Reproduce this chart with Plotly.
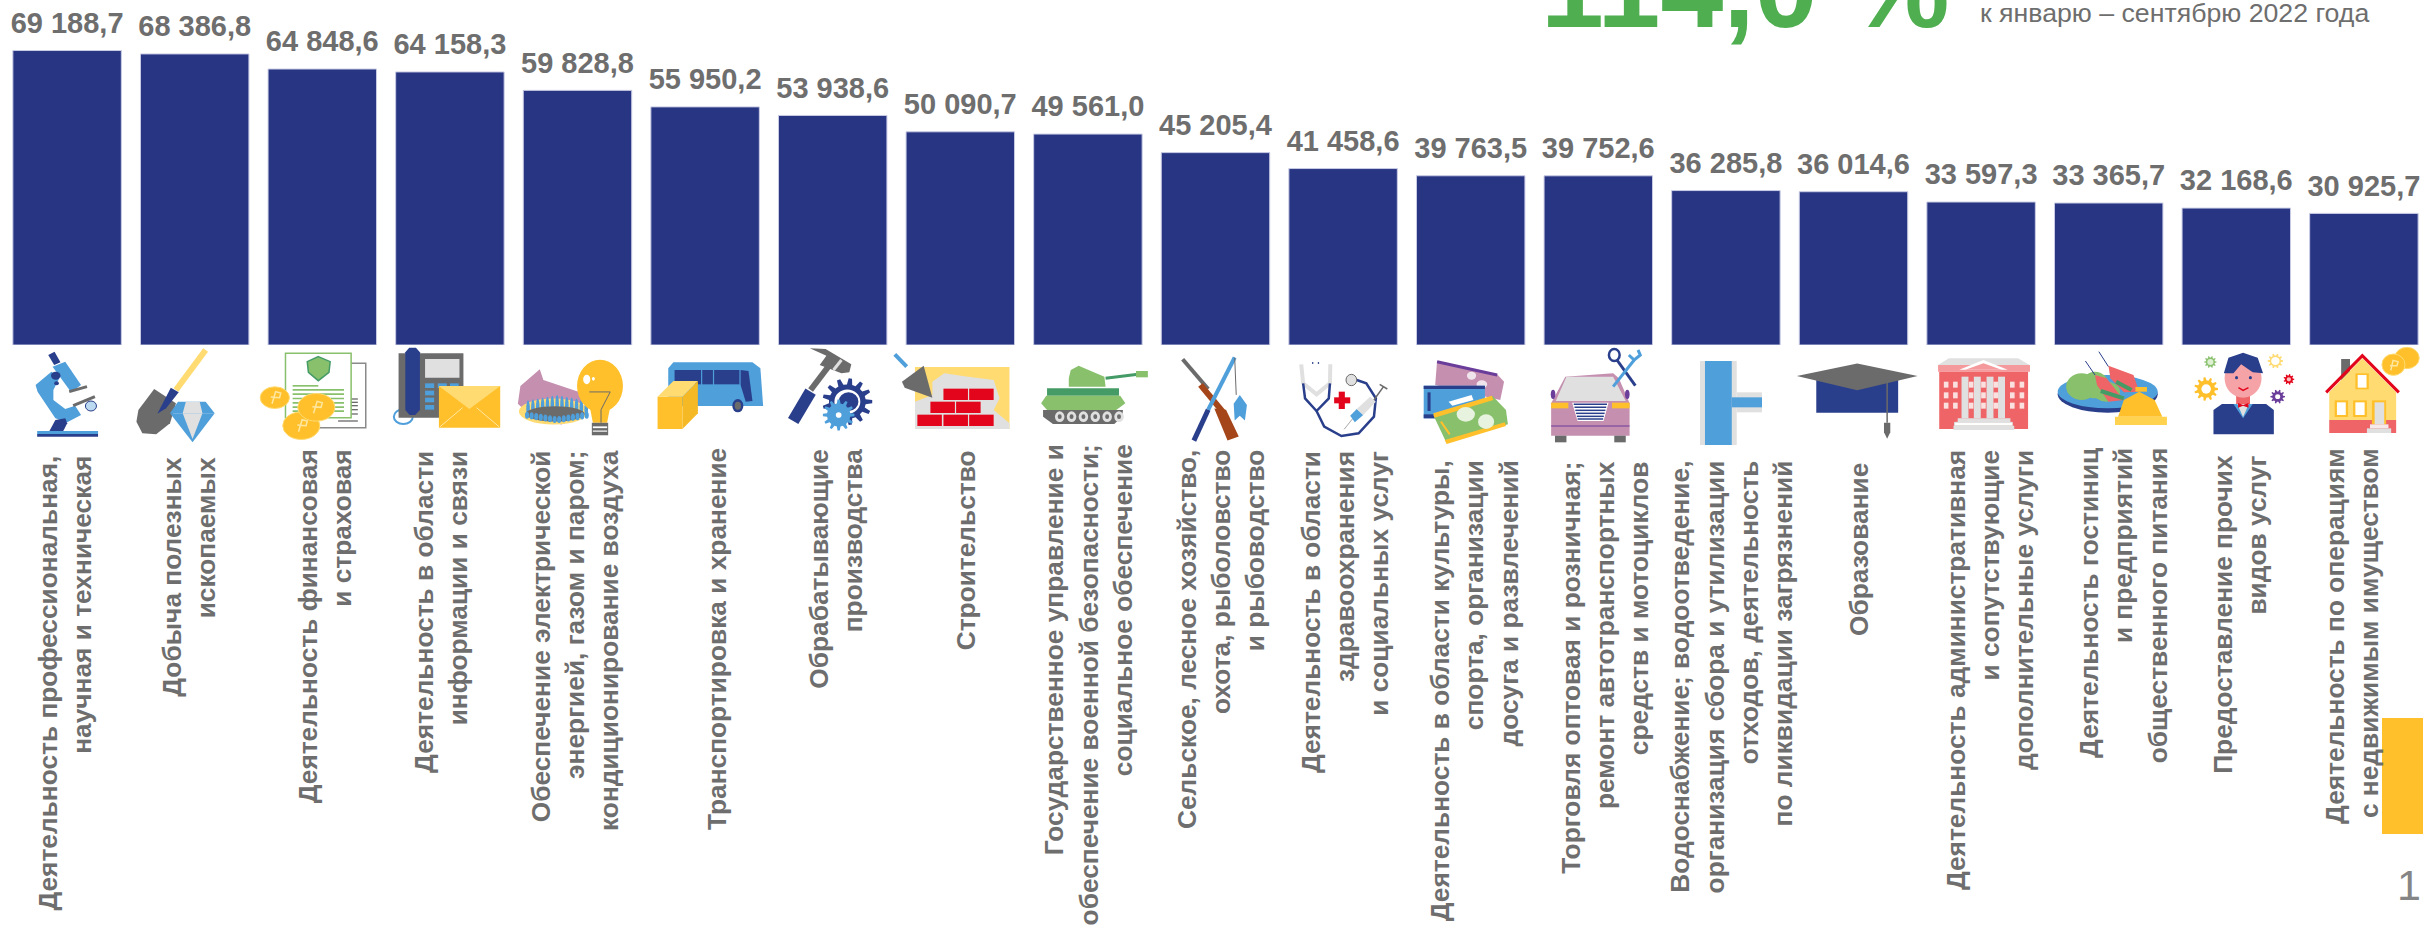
import plotly.graph_objects as go

categories = [
    "Деятельность профессиональная,<br>научная и техническая",
    "Добыча полезных<br>ископаемых",
    "Деятельность финансовая<br>и страховая",
    "Деятельность в области<br>информации и связи",
    "Обеспечение электрической<br>энергией, газом и паром;<br>кондиционирование воздуха",
    "Транспортировка и хранение",
    "Обрабатывающие<br>производства",
    "Строительство",
    "Государственное управление и<br>обеспечение военной безопасности;<br>социальное обеспечение",
    "Сельское, лесное хозяйство,<br>охота, рыболовство<br>и рыбоводство",
    "Деятельность в области<br>здравоохранения<br>и социальных услуг",
    "Деятельность в области культуры,<br>спорта, организации<br>досуга и развлечений",
    "Торговля оптовая и розничная;<br>ремонт автотранспортных<br>средств и мотоциклов",
    "Водоснабжение; водоотведение,<br>организация сбора и утилизации<br>отходов, деятельность<br>по ликвидации загрязнений",
    "Образование",
    "Деятельность административная<br>и сопутствующие<br>дополнительные услуги",
    "Деятельность гостиниц<br>и предприятий<br>общественного питания",
    "Предоставление прочих<br>видов услуг",
    "Деятельность по операциям<br>с недвижимым имуществом",
]
values = [69188.7, 68386.8, 64848.6, 64158.3, 59828.8, 55950.2, 53938.6, 50090.7, 49561.0,
          45205.4, 41458.6, 39763.5, 39752.6, 36285.8, 36014.6, 33597.3, 33365.7, 32168.6, 30925.7]
headline = "114,0 %"
subtitle = "к январю – сентябрю 2022 года"
page_number = "1"

W, H = 2423, 931
NAVY = "#283583"
NAVY2 = "#2A3F8B"
BLUE = "#4F9FDB"
YEL = "#FFC02B"
LYEL = "#FFDB72"
GRAY = "#6B6B6B"
LGRAY = "#E0E0E0"
GREEN = "#88C06C"
DGREEN = "#459B66"
RED = "#E3051B"
PINK = "#C58FB0"
CORAL = "#EE6467"
TXT = "#6E6E6E"

label_tops = [454, 455, 447, 449, 448, 446, 447, 448, 442, 448, 449, 458, 459, 458, 461, 448, 446, 453, 446]
label_dx = [-3, -6, 3, -9, -3, 12, 3, 6, 0, 5, 2, 3, 6, 6, 5, 9, 14, 3, -12]


def fmt(v):
    s = f"{v:,.1f}"
    return s.replace(",", " ").replace(".", ",")


shapes = []
_t = [0, 1, 0, 1]


def crop(x0, sx, y0, sy):
    _t[:] = [x0, sx, y0, sy]


def T(x, y):
    return (_t[0] + x / _t[1]) / W, 1 - (_t[2] + y / _t[3]) / H


def path(pts, closed):
    q = [T(*p) for p in pts]
    d = "M" + " L".join(f"{a:.6f},{b:.6f}" for a, b in q)
    return d + (" Z" if closed else "")


def P(pts, c, lc=None, lw=1):
    shapes.append(dict(type="path", xref="paper", yref="paper", path=path(pts, True), fillcolor=c,
                       line=dict(color=lc or c, width=lw if lc else 0), layer="above"))


def PL(pts, c, w=2):
    shapes.append(dict(type="path", xref="paper", yref="paper", path=path(pts, False),
                       fillcolor="rgba(0,0,0,0)", line=dict(color=c, width=w), layer="above"))


def R(x0, y0, x1, y1, c, lc=None, lw=1):
    P([(x0, y0), (x1, y0), (x1, y1), (x0, y1)], c, lc, lw)


def C(cx, cy, rx, ry, c, lc=None, lw=1):
    a, b = T(cx - rx, cy - ry)
    d, e = T(cx + rx, cy + ry)
    shapes.append(dict(type="circle", xref="paper", yref="paper", x0=a, x1=d, y0=e, y1=b, fillcolor=c,
                       line=dict(color=lc or c, width=lw if lc else 0), layer="above"))


def gear(cx, cy, rx, ry, c, n=10, hole="#FFFFFF", hole_k=0.45):
    import math
    pts = []
    for i in range(n):
        for k, f in ((-0.30, 0.74), (-0.14, 1.0), (0.14, 1.0), (0.30, 0.74)):
            a = 2 * math.pi * (i + k) / n
            pts.append((cx + rx * f * math.cos(a), cy + ry * f * math.sin(a)))
    P(pts, c)
    if hole:
        C(cx, cy, rx * hole_k, ry * hole_k, hole)


# --- microscope
crop(0, 2.529, 335, 3)
P([(90, 150), (130, 110), (150, 130), (135, 165), (135, 195), (165, 222), (190, 212), (205, 240), (170, 262), (140, 250), (95, 170)], BLUE)
P([(133, 95), (165, 80), (205, 150), (180, 172)], BLUE)
P([(122, 60), (138, 50), (153, 82), (137, 90)], NAVY2)
C(141, 122, 12, 12, NAVY2)
C(143, 145, 6, 6, NAVY2)
P([(125, 288), (140, 255), (165, 250), (170, 265), (160, 288)], NAVY2)
PL([(175, 170), (220, 155)], GRAY, 3)
PL([(185, 212), (240, 185)], GRAY, 3)
C(230, 213, 14, 15, "#BBD9F0", NAVY2, 1)
R(94, 288, 248, 297, BLUE)
R(94, 297, 248, 305, NAVY2)

# --- shovel and diamond
PL([(445, 165), (520, 45)], LYEL, 6)
P([(390, 162), (445, 205), (430, 265), (395, 298), (360, 295), (345, 260), (350, 225)], GRAY)
P([(432, 158), (452, 172), (420, 220), (398, 236)], NAVY2)
P([(450, 200), (520, 200), (543, 235), (430, 235)], BLUE)
P([(470, 200), (505, 200), (512, 235), (462, 235)], LGRAY)
P([(430, 235), (543, 235), (487, 322)], BLUE)
P([(462, 235), (512, 235), (487, 312)], LGRAY)

# --- finance
R(760, 85, 925, 278, "#FFFFFF", "#8A8A8A", 1.5)
for yy in (190, 200, 210, 222, 235):
    R(860, yy, 905, yy + 4, GRAY)
R(855, 256, 905, 260, GRAY)
R(722, 55, 888, 248, "#FFFFFF", GREEN, 1.5)
P([(805, 65), (835, 80), (832, 112), (805, 137), (780, 112), (777, 80)], GREEN, DGREEN, 1.5)
R(740, 150, 805, 155, GREEN)
for yy in (162, 175, 188, 201, 214, 226):
    R(740, yy, 870, yy + 5, GREEN)
for cx, cy, rr in ((695, 188, 37), (762, 272, 47), (800, 217, 47)):
    C(cx, cy, rr, rr * 0.88, YEL, "#FFDB72", 1)
    PL([(cx - 7, cy + 18), (cx + 2, cy - 18), (cx + 15, cy - 14), (cx + 12, cy), (cx - 10, cy - 2)], "#FFE7A0", 1.5)

# --- phone and envelope
C(1020, 245, 24, 22, "rgba(0,0,0,0)", BLUE, 2)
R(1008, 55, 1172, 248, GRAY)
R(1075, 72, 1162, 128, LGRAY)
for yy in (145, 167, 188, 210):
    R(1075, yy, 1098, yy + 14, BLUE)
R(1107, 145, 1130, 159, BLUE)
R(1138, 145, 1160, 159, BLUE)
P([(1035, 38), (1052, 38), (1062, 52), (1062, 225), (1050, 240), (1036, 240), (1025, 225), (1025, 52)], NAVY2)
R(1110, 153, 1265, 278, YEL)
P([(1110, 153), (1265, 153), (1187, 222)], LYEL)
PL([(1112, 276), (1170, 218)], "#FFE7A0", 1)
PL([(1263, 276), (1205, 218)], "#FFE7A0", 1)

# --- gas and bulb
crop(0, 1.96, 0, 1.684)
P([(1015, 680), (1020, 650), (1058, 622), (1065, 640), (1100, 650), (1135, 660), (1150, 700), (1100, 715), (1040, 700)], PINK)
C(1085, 693, 68, 22, LYEL)
for i in range(13):
    C(1035 + i * 9.5, 680 + abs(i - 6) * 1.5, 3.5, 15, BLUE)
C(1088, 697, 58, 13, GRAY)
for i in range(14):
    C(1033 + i * 9, 707 - abs(i - 6.5) * 1.2, 4, 6, BLUE)
C(1176, 650, 45, 44, YEL)
P([(1155, 680), (1197, 680), (1190, 712), (1162, 712)], YEL)
C(1150, 639, 7, 8, "#FFFFFF")
C(1163, 638, 3, 3, "#FFFFFF")
PL([(1155, 660), (1196, 660), (1178, 690), (1178, 712)], GRAY, 1)
R(1160, 712, 1192, 733, GRAY)
R(1162, 718, 1190, 721, "#FFFFFF")
R(1162, 725, 1190, 727, "#FFFFFF")

# --- bus and box
crop(620, 2.529, 335, 3)
P([(122, 100), (135, 82), (335, 82), (355, 100), (362, 213), (122, 213)], BLUE)
R(138, 105, 205, 148, NAVY2)
R(208, 105, 235, 148, NAVY2)
R(238, 105, 302, 148, NAVY2)
P([(305, 105), (325, 108), (335, 198), (318, 200), (305, 150)], NAVY2)
C(298, 212, 14, 20, NAVY2)
C(298, 212, 8, 12, GRAY)
R(95, 185, 158, 282, YEL)
P([(158, 185), (197, 138), (197, 235), (158, 282)], "#F5B925")
P([(95, 185), (135, 138), (197, 138), (158, 185)], LYEL)

# --- hammer and gear
PL([(438, 258), (482, 170)], NAVY2, 12)
PL([(482, 165), (530, 90)], GRAY, 6)
P([(480, 40), (520, 42), (585, 88), (580, 112), (560, 115), (505, 90), (522, 62)], GRAY)
PL([(560, 75), (540, 105)], LGRAY, 3)
gear(575, 200, 63, 70, NAVY2, 13, "#FFFFFF", 0.52)
C(578, 200, 25, 28, NAVY2)
gear(553, 240, 40, 47, BLUE, 12, "#FFFFFF", 0.18)

# --- bricks
R(746, 96, 985, 282, LYEL)
P([(746, 200), (790, 180), (790, 140), (820, 115), (880, 125), (945, 135), (960, 190), (945, 225), (985, 265), (985, 282), (746, 282)], LGRAY)
for bx, by in ((818, 161), (883, 161), (785, 200), (850, 200), (752, 239), (818, 239), (883, 239)):
    R(bx, by, bx + 62, by + 34, RED)
P([(768, 92), (790, 188), (720, 158), (713, 140)], GRAY)
PL([(695, 58), (725, 95)], BLUE, 4)

# --- tank
P([(1140, 105), (1160, 92), (1185, 105), (1225, 125), (1228, 155), (1135, 155), (1135, 130)], GREEN)
PL([(1228, 130), (1310, 118)], DGREEN, 3)
R(1305, 108, 1335, 127, GREEN)
R(1080, 160, 1262, 182, DGREEN)
P([(1078, 182), (1265, 182), (1278, 205), (1255, 225), (1080, 225), (1065, 205)], GREEN)
P([(1070, 225), (1272, 225), (1270, 245), (1250, 267), (1095, 267), (1070, 245)], GRAY)
for i in range(6):
    C(1112 + i * 30, 245, 12, 16, LGRAY)
    C(1112 + i * 30, 245, 5, 7, GRAY)

# --- rifle and rod
crop(800, 1.96, 0, 1.684)
PL([(750, 605), (800, 655)], GRAY, 4)
PL([(785, 648), (830, 695)], "#A5461A", 6)
P([(812, 688), (835, 690), (860, 735), (838, 742)], "#A5461A")
PL([(852, 602), (800, 690)], BLUE, 4)
PL([(800, 690), (772, 742)], NAVY2, 5)
PL([(852, 602), (855, 665)], GRAY, 1)
P([(862, 665), (876, 682), (872, 708), (862, 700), (852, 708), (850, 680)], BLUE)

# --- stethoscope
crop(1240, 2.613, 335, 3)
PL([(160, 88), (165, 145), (200, 178), (235, 145), (236, 88)], LGRAY, 4)
PL([(165, 145), (170, 190), (200, 228), (232, 190), (235, 145)], NAVY2, 2.5)
PL([(200, 228), (220, 275), (265, 303), (310, 295), (350, 245), (355, 190), (330, 145), (305, 135)], NAVY2, 2.5)
C(291, 135, 14, 17, LGRAY, GRAY, 1)
R(258, 170, 274, 222, RED)
R(246, 187, 288, 205, RED)
PL([(272, 283), (295, 250)], "#AAAAAA", 1)
P([(288, 242), (305, 222), (322, 240), (300, 262)], BLUE)
P([(305, 222), (340, 185), (355, 200), (322, 240)], LGRAY)
PL([(350, 195), (375, 155)], GRAY, 1.5)
PL([(365, 148), (385, 162)], GRAY, 1.5)
C(190, 84, 2, 3, NAVY2)
C(205, 84, 2, 3, NAVY2)

# --- tickets
P([(515, 78), (672, 118), (690, 140), (680, 195), (510, 150)], PINK)
PL([(515, 80), (672, 120)], "#6A3D9A", 3)
C(605, 122, 12, 12, "#F0E4EC")
C(632, 148, 14, 12, "#F0E4EC")
R(480, 152, 640, 250, BLUE)
R(480, 152, 640, 162, NAVY2)
R(480, 238, 515, 250, NAVY2)
R(490, 172, 498, 228, NAVY2)
P([(545, 200), (605, 180), (610, 195), (555, 212)], "#FFFFFF")
P([(505, 240), (660, 183), (695, 225), (700, 268), (540, 325)], GREEN)
P([(505, 235), (658, 182), (662, 195), (508, 248)], YEL)
P([(535, 315), (692, 262), (695, 273), (540, 327)], YEL)
C(590, 238, 24, 22, "#E8F3DF")
C(643, 260, 21, 22, "#E8F3DF")
PL([(525, 260), (548, 298)], YEL, 2)

# --- car and tools
P([(850, 125), (975, 115), (990, 130), (1018, 205), (1018, 302), (813, 302), (813, 205)], PINK)
P([(853, 125), (975, 125), (1008, 198), (825, 198)], LGRAY)
C(818, 178, 6, 14, "#6A3D9A")
C(1012, 178, 6, 14, "#6A3D9A")
R(813, 203, 858, 220, YEL)
R(972, 203, 1018, 220, YEL)
P([(868, 203), (963, 203), (950, 258), (882, 258)], "#FFFFFF")
for yy in (208, 217, 226, 235, 244, 252):
    PL([(872 + (yy - 208) * 0.23, yy), (959 - (yy - 208) * 0.23, yy)], NAVY2, 1.5)
PL([(813, 273), (1018, 273)], "#6A3D9A", 1)
R(823, 302, 853, 322, GRAY)
R(978, 302, 1008, 322, GRAY)
PL([(985, 75), (1033, 152)], NAVY2, 3)
C(978, 60, 14, 18, "rgba(0,0,0,0)", NAVY2, 2.5)
PL([(975, 155), (1030, 75)], BLUE, 3)
PL([(1016, 60), (1030, 75), (1046, 60), (1040, 45)], BLUE, 3)

# --- pipe
R(1202, 78, 1298, 330, LGRAY)
R(1298, 172, 1364, 232, LGRAY)
R(1215, 78, 1285, 330, BLUE)
R(1285, 187, 1364, 217, BLUE)

# --- cap
crop(1600, 1.905, 0, 1.684)
R(412, 640, 568, 695, NAVY2)
P([(375, 633), (490, 612), (605, 633), (490, 657)], GRAY)
PL([(547, 645), (547, 712)], GRAY, 1.5)
P([(541, 712), (553, 712), (553, 728), (547, 739), (541, 728)], GRAY)

# --- building
crop(1820, 2.6, 335, 3)
P([(335, 70), (515, 70), (545, 90), (307, 90)], LGRAY)
R(307, 90, 546, 110, "#F59A9C")
R(310, 110, 541, 282, CORAL)
P([(362, 104), (425, 75), (488, 104)], "#FFFFFF")
P([(378, 104), (425, 85), (472, 104)], "#F59A9C")
for cx in (377, 409, 442, 472):
    R(cx - 9, 125, cx + 9, 250, LGRAY)
for yy in (140, 172, 203):
    for cx in (328, 352, 393, 425, 457, 500, 525):
        R(cx - 6, yy, cx + 6, yy + 18, "#FBE0E0")
R(358, 250, 495, 262, LGRAY)
R(350, 262, 500, 272, "#FFFFFF", LGRAY, 1)
R(347, 272, 505, 285, LGRAY)

# --- plate and cloche
C(748, 178, 130, 55, NAVY2)
C(748, 170, 130, 50, BLUE)
C(680, 155, 40, 40, GREEN)
C(715, 150, 35, 40, GREEN)
C(745, 170, 35, 30, GREEN)
PL([(690, 78), (715, 120)], NAVY2, 1)
PL([(725, 50), (750, 95)], NAVY2, 1)
P([(715, 120), (745, 130), (790, 195), (750, 200), (720, 150)], CORAL)
P([(750, 92), (815, 120), (830, 170), (790, 172), (755, 130)], CORAL)
PL([(730, 168), (790, 190)], DGREEN, 4)
PL([(770, 140), (810, 165)], DGREEN, 4)
P([(775, 245), (790, 195), (830, 170), (870, 195), (890, 245)], YEL)
R(820, 156, 850, 170, YEL)
R(767, 245, 902, 270, "#FFD24F")

# --- person and gears
P([(1023, 225), (1045, 207), (1160, 207), (1180, 225), (1180, 298), (1023, 298)], NAVY2)
P([(1075, 207), (1125, 207), (1100, 250)], BLUE)
P([(1085, 207), (1115, 207), (1100, 246)], LGRAY)
R(1082, 180, 1118, 207, CORAL)
C(1100, 130, 48, 58, "#F5A3A6")
P([(1050, 115), (1062, 68), (1100, 53), (1138, 68), (1152, 115), (1125, 112), (1095, 88), (1075, 115)], NAVY2)
C(1083, 128, 4, 5, NAVY2)
C(1119, 128, 4, 5, NAVY2)
PL([(1088, 158), (1100, 166), (1114, 158)], RED, 1.5)
P([(1087, 204), (1100, 210), (1114, 204), (1114, 218), (1100, 212), (1087, 218)], RED)
gear(1004, 162, 31, 35, YEL, 11, "#FFFFFF", 0.4)
gear(1015, 81, 16, 18, GREEN, 10, "#DDF0D2", 0.5)
gear(1184, 78, 20, 22, LYEL, 10, "#FFFFFF", 0.55)
gear(1219, 133, 14, 16, RED, 9, "#FFC0C0", 0.4)
gear(1190, 185, 19, 21, "#6A3D9A", 10, "#FFFFFF", 0.35)

# --- house and coins
R(1355, 72, 1378, 140, GRAY)
R(1324, 170, 1498, 255, LYEL)
P([(1324, 172), (1410, 70), (1498, 172)], LYEL)
PL([(1316, 172), (1410, 62), (1505, 172)], RED, 3)
R(1324, 255, 1498, 294, CORAL)
R(1392, 115, 1427, 163, YEL)
R(1398, 120, 1421, 158, "#FFFFFF")
R(1338, 196, 1373, 246, YEL)
R(1344, 202, 1367, 240, "#FFFFFF")
R(1386, 196, 1422, 246, YEL)
R(1392, 202, 1416, 240, "#FFFFFF")
R(1435, 196, 1472, 268, YEL)
R(1442, 202, 1467, 268, LGRAY)
R(1430, 268, 1478, 280, "#F6E9E9")
R(1422, 280, 1485, 294, LGRAY)
C(1526, 69, 32, 32, YEL, LYEL, 1)
C(1491, 89, 30, 32, YEL, LYEL, 1)
PL([(1484, 106), (1490, 76), (1503, 80), (1500, 92), (1482, 92)], "#FFE7A0", 1.5)

# --- corner tab
crop(0, 1, 0, 1)
R(2382, 718, 2423, 834, YEL)

annotations = [
    dict(text=f"<b>{t}</b>", x=i + label_dx[i] / 127.6, xref="x", y=1 - label_tops[i] / H, yref="paper", textangle=-90,
         xanchor="center", yanchor="top", align="right", showarrow=False,
         font=dict(family="Liberation Sans", size=26.3, color=TXT))
    for i, t in enumerate(categories)
]
annotations += [
    dict(text=f"<b>{headline}</b>", x=1539 / W, xref="paper", y=1 - 53 / H, yref="paper", xanchor="left",
         yanchor="bottom", showarrow=False, font=dict(family="Liberation Sans", size=113, color="#4FAF50")),
    dict(text=subtitle, x=1978 / W, xref="paper", y=1 - 30 / H, yref="paper", xanchor="left", yanchor="bottom",
         showarrow=False, font=dict(family="Liberation Sans", size=26.7, color=TXT)),
    dict(text=page_number, x=2423 / W, xref="paper", y=1 - 859 / H, yref="paper", xanchor="right", yanchor="top",
         showarrow=False, font=dict(family="Liberation Sans", size=43, color="#858585")),
]

fig = go.Figure()
fig.add_trace(go.Bar(
    x=categories, y=values, width=0.85,
    marker=dict(color=NAVY, line=dict(color="#C9CCE4", width=1)),
    hoverinfo="skip",
))
fig.add_trace(go.Scatter(
    x=categories, y=values, mode="markers+text",
    marker=dict(size=15, opacity=0),
    text=[fmt(v) for v in values], textposition="top center", cliponaxis=False,
    textfont=dict(family="Liberation Sans", size=29, color=TXT, weight="bold"),
    hoverinfo="skip",
))
fig.update_layout(
    width=W, height=H, margin=dict(l=0, r=0, t=0, b=0), autosize=False,
    paper_bgcolor="white", plot_bgcolor="white", showlegend=False,
    shapes=shapes, annotations=annotations,
    xaxis=dict(visible=False, type="category", range=[-67.1 / 127.6, (W - 67.1) / 127.6], domain=[0, 1]),
    yaxis=dict(visible=False, range=[0, 345 / 0.004256], domain=[1 - 345 / H, 1]),
)
fig.write_html("out.html", config=dict(displayModeBar=False),
               post_script="document.body.style.margin='0';document.documentElement.style.overflow='hidden';")
